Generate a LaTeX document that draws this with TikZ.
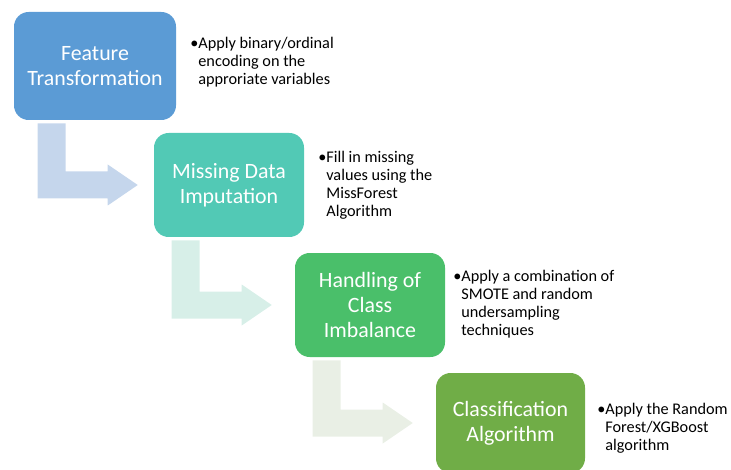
\documentclass[tikz,border=0pt]{standalone}
\usepackage{fontspec}
\setmainfont{Carlito}
\usetikzlibrary{calc}
\definecolor{cbox1}{HTML}{5B9BD5}
\definecolor{cbox2}{HTML}{52C9B5}
\definecolor{cbox3}{HTML}{4ABF6A}
\definecolor{cbox4}{HTML}{70AD47}
\definecolor{carr1}{HTML}{C5D6EC}
\definecolor{carr2}{HTML}{D7EFE8}
\definecolor{carr3}{HTML}{E9EFE5}
\tikzset{
  stagebox/.style={rounded corners=11pt, text=white, align=center, inner sep=0pt,
    font=\fontsize{16.4}{18.6}\selectfont},
  notetext/.style={anchor=base west, inner sep=0pt, font=\fontsize{12.2}{13.5}\selectfont},
}
\newcommand\bentarrow[4]{% from, to, dx, colour
  \coordinate (#1-s) at ($(#1.south west)+(#3,3)$);
  \coordinate (#1-m) at (#1-s |- #2.west);
  \fill[#4] (#1-s) -- ++(28,0) -- ($(#1-m)+(28,-13.5)$) -- ($(#1-m)+(70,-13.5)$)
    -- ($(#1-m)+(70,-20.5)$) -- ($(#1-m)+(100,0)$) -- ($(#1-m)+(70,20.5)$)
    -- ($(#1-m)+(70,13.5)$) -- ($(#1-m)+(0,13.5)$) -- cycle;
}
\begin{document}
\begin{tikzpicture}[x=0.75pt,y=-0.75pt]
\useasboundingbox (0,0) rectangle (731,470);
\node[stagebox, fill=cbox1, minimum width=121.5pt, minimum height=81pt] (b1) at (95,66) {Feature\\Transformation};
\node[stagebox, fill=cbox2, minimum width=112.5pt, minimum height=78pt] (b2) at (229,185) {Missing Data\\Imputation};
\node[stagebox, fill=cbox3, minimum width=112.5pt, minimum height=78pt] (b3) at (370,305) {Handling of\\Class\\Imbalance};
\node[stagebox, fill=cbox4, minimum width=111.75pt, minimum height=75pt] (b4) at (510.5,423) {Classification\\Algorithm};

\bentarrow{b1}{b2}{24}{carr1}
\bentarrow{b2}{b3}{18}{carr2}
\bentarrow{b3}{b4}{18}{carr3}

\node[notetext] (n1) at (190,49) {\begin{tabular}[t]{@{}l@{}l@{}}•&Apply binary/ordinal\\&encoding on the\\&approriate variables\end{tabular}};
\node[notetext] (n2) at (318,163) {\begin{tabular}[t]{@{}l@{}l@{}}•&Fill in missing\\&values using the\\&MissForest\\&Algorithm\end{tabular}};
\node[notetext] (n3) at (453,281.5) {\begin{tabular}[t]{@{}l@{}l@{}}•&Apply a combination of\\&SMOTE and random\\&undersampling\\&techniques\end{tabular}};
\node[notetext] (n4) at (597,414) {\begin{tabular}[t]{@{}l@{}l@{}}•&Apply the Random\\&Forest/XGBoost\\&algorithm\end{tabular}};
\end{tikzpicture}
\end{document}
